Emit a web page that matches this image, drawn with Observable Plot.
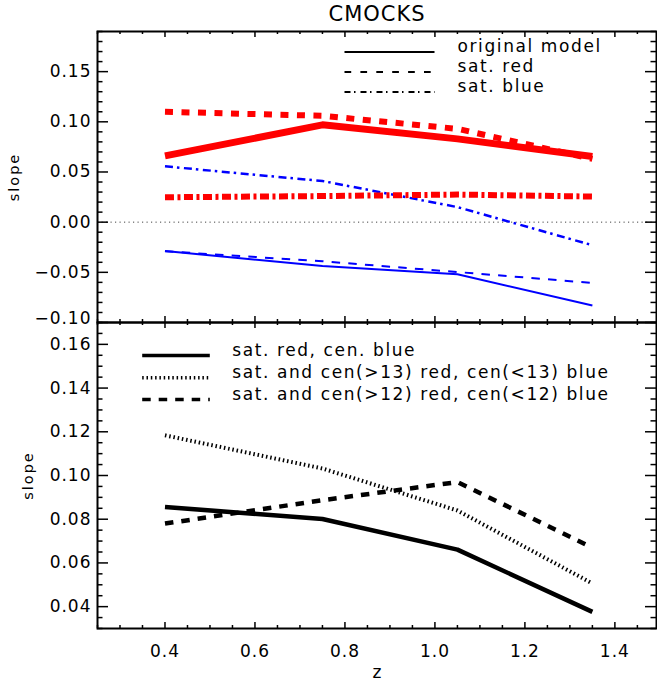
<!DOCTYPE html>
<html><head><meta charset="utf-8">
<script src="https://cdn.jsdelivr.net/npm/d3@7"></script>
<script src="https://cdn.jsdelivr.net/npm/@observablehq/plot@0.6"></script>
<style>
body{margin:0;background:#fff;}
#chart{position:relative;width:657px;height:684px;background:#fff;}
#chart svg{position:absolute;left:0;overflow:visible;background:transparent;}
svg text{font-family:"DejaVu Sans",sans-serif;fill:#000;}
</style></head>
<body><div id="chart"></div>
<script>
// ---------- data ----------
const z = [0.4, 0.75, 1.05, 1.35];
// top panel (red = thick, blue = thin)
const redOriginal  = [0.066, 0.097, 0.083, 0.0655];
const redSatRed    = [0.110, 0.106, 0.093, 0.063];
const redSatBlue   = [0.0248, 0.026, 0.0275, 0.0255];
const blueOriginal = [-0.0288, -0.0437, -0.052, -0.083];
const blueSatRed   = [-0.029, -0.039, -0.0497, -0.0606];
const blueSatBlue  = [0.0556, 0.041, 0.015, -0.023];
// bottom panel
const satRedCenBlue = [0.0856, 0.0801, 0.0661, 0.0376];
const cen13         = [0.1184, 0.1032, 0.084, 0.0506];
const cen12         = [0.078, 0.0887, 0.097, 0.067];

const xTickLabels = [0.4, 0.6, 0.8, 1.0, 1.2, 1.4];
const yTopTickLabels = [-0.10, -0.05, 0.00, 0.05, 0.10, 0.15];
const yBottomTickLabels = [0.04, 0.06, 0.08, 0.10, 0.12, 0.14, 0.16];
const topLegendLabels = ["original model", "sat. red", "sat. blue"];
const bottomLegendLabels = ["sat. red, cen. blue", "sat. and cen(>13) red, cen(<13) blue", "sat. and cen(>12) red, cen(<12) blue"];
const chartTitle = "CMOCKS";
const xTitle = "z";
const yTitle = "slope";

// ---------- layout ----------
const W = 657, ML = 97, MR = 1, plotW = W - ML - MR;
const xDomain = [0.25, 1.4925];
const topDomain = [-0.10, 0.19];
const botDomain = [0.03, 0.17];
const H1 = 330, MT1 = 31, MB1 = 8, plotH1 = H1 - MT1 - MB1;
const TOP2 = 314, H2 = 370, MT2 = 8, MB2 = 56, plotH2 = H2 - MT2 - MB2;

const rows = ys => z.map((x, i) => ({x, y: ys[i]}));
const rnd = v => Math.round(v * 10000) / 10000;
const minorX = d3.range(0.25, 1.49, 0.05).map(rnd).filter(v => !xTickLabels.some(t => Math.abs(t - v) < 1e-6));
const minorTop = d3.range(-0.10, 0.1901, 0.01).map(rnd).filter(v => !yTopTickLabels.some(t => Math.abs(t - v) < 1e-6));
const minorBot = d3.range(0.03, 0.1701, 0.005).map(rnd).filter(v => !yBottomTickLabels.some(t => Math.abs(t - v) < 1e-6));

const xv = px => xDomain[0] + (px - ML) / plotW * (xDomain[1] - xDomain[0]);
const yvTop = py => topDomain[1] - (py - MT1) / plotH1 * (topDomain[1] - topDomain[0]);
const yvBot = py => botDomain[1] - (py - (TOP2 + MT2)) / plotH2 * (botDomain[1] - botDomain[0]);

function frameTicks(majX, minX, majY, minY, plotH) {
  const s = {stroke: "black", strokeWidth: 1.5};
  const yL = 11, yl = 5.5, xL = 6, xl = 3;
  return [
    Plot.tickY(majY, {y: d => d, insetRight: plotW - yL, ...s}),
    Plot.tickY(minY, {y: d => d, insetRight: plotW - yl, ...s}),
    Plot.tickY(majY, {y: d => d, insetLeft: plotW - yL, ...s}),
    Plot.tickY(minY, {y: d => d, insetLeft: plotW - yl, ...s}),
    Plot.tickX(majX, {x: d => d, insetTop: plotH - xL, ...s}),
    Plot.tickX(minX, {x: d => d, insetTop: plotH - xl, ...s}),
    Plot.tickX(majX, {x: d => d, insetBottom: plotH - xL, ...s}),
    Plot.tickX(minX, {x: d => d, insetBottom: plotH - xl, ...s})
  ];
}

function legendLine(x1, x2, y, opts) {
  return Plot.line([{x: x1, y}, {x: x2, y}], {x: "x", y: "y", stroke: "black", strokeLinecap: "butt", ...opts});
}

// text styling after render (font size + letter spacing by text content)
function styleTexts(svg, labels, size, spacing) {
  d3.select(svg).selectAll("text")
    .filter(function () { return labels.includes(this.textContent.trim()); })
    .attr("font-size", size)
    .style("font-size", size + "px")
    .style("letter-spacing", spacing + "px");
}

const fmt2 = d3.format(".2f");
const fmt1 = d3.format(".1f");
const chart = document.getElementById("chart");

// ---------- top panel ----------
const topLegY = [51.5, 71.5, 91.5].map(yvTop);
const topLegStyles = [
  {strokeWidth: 2},
  {strokeWidth: 2, strokeDasharray: "6.7,9.2"},
  {strokeWidth: 1.8, strokeDasharray: "6,3.5,1.5,5"}
];
const topPlot = Plot.plot({
  width: W, height: H1,
  marginLeft: ML, marginRight: MR, marginTop: MT1, marginBottom: MB1,
  x: {domain: xDomain, label: null, axis: null},
  y: {domain: topDomain, label: null, axis: null},
  style: {fontFamily: "DejaVu Sans", fontSize: "17px", background: "transparent", overflow: "visible"},
  marks: [
    Plot.ruleY([0], {stroke: "#444", strokeWidth: 1, strokeDasharray: "1.2,3.3"}),
    Plot.line(rows(blueSatRed), {x: "x", y: "y", stroke: "#0000ff", strokeWidth: 2, strokeDasharray: "8.5,8.2", strokeLinecap: "butt"}),
    Plot.line(rows(blueOriginal), {x: "x", y: "y", stroke: "#0000ff", strokeWidth: 2, strokeLinecap: "butt"}),
    Plot.line(rows(blueSatBlue), {x: "x", y: "y", stroke: "#0000ff", strokeWidth: 2.5, strokeDasharray: "8,4,2.5,4.5", strokeLinecap: "butt"}),
    Plot.line(rows(redSatBlue), {x: "x", y: "y", stroke: "#ff0000", strokeWidth: 6, strokeDasharray: "9,3.5,3,3.5", strokeLinecap: "butt"}),
    Plot.line(rows(redSatRed), {x: "x", y: "y", stroke: "#ff0000", strokeWidth: 6, strokeDasharray: "8,8.5", strokeLinecap: "butt"}),
    Plot.line(rows(redOriginal), {x: "x", y: "y", stroke: "#ff0000", strokeWidth: 7, strokeLinecap: "butt"}),
    ...topLegendLabels.map((l, i) => legendLine(xv(344), xv(434), topLegY[i], topLegStyles[i])),
    Plot.text(topLegendLabels, {x: xv(457), y: (d, i) => topLegY[i], text: d => d, textAnchor: "start", lineAnchor: "middle", dy: -5, fontSize: 17}),
    ...frameTicks(xTickLabels, minorX, yTopTickLabels, minorTop, plotH1),
    Plot.axisY(yTopTickLabels.filter(v => v > -0.1), {anchor: "left", tickSize: 0, tickPadding: 6, tickFormat: fmt2, fontSize: 17, label: null}),
    Plot.axisY([-0.10], {anchor: "left", tickSize: 0, tickPadding: 6, tickFormat: fmt2, fontSize: 17, label: null, dy: -4}),
    Plot.text([yTitle], {frameAnchor: "left", dx: 14 - ML, rotate: -90, fontSize: 14, text: d => d, textAnchor: "middle", lineAnchor: "middle"}),
    Plot.text([chartTitle], {frameAnchor: "top", dy: -17, fontSize: 21, text: d => d, textAnchor: "middle", lineAnchor: "middle"}),
    Plot.frame({stroke: "black", strokeWidth: 2})
  ]
});
topPlot.style.top = "0px";
chart.appendChild(topPlot);
styleTexts(topPlot, yTopTickLabels.map(fmt2), 17, 1);
styleTexts(topPlot, topLegendLabels, 17, 1.6);
styleTexts(topPlot, [yTitle], 14.5, 2);
styleTexts(topPlot, [chartTitle], 21, 1);

// ---------- bottom panel ----------
const botLegY = [355, 377.3, 399].map(yvBot);
const botLegStyles = [
  {strokeWidth: 3.5},
  {strokeWidth: 3.5, strokeDasharray: "1.5,2.8"},
  {strokeWidth: 3.5, strokeDasharray: "8.5,8"}
];
const bottomPlot = Plot.plot({
  width: W, height: H2,
  marginLeft: ML, marginRight: MR, marginTop: MT2, marginBottom: MB2,
  x: {domain: xDomain, label: null, axis: null},
  y: {domain: botDomain, label: null, axis: null},
  style: {fontFamily: "DejaVu Sans", fontSize: "17px", background: "transparent", overflow: "visible"},
  marks: [
    Plot.line(rows(cen13), {x: "x", y: "y", stroke: "black", strokeWidth: 4, strokeDasharray: "1.5,2.8", strokeLinecap: "butt"}),
    Plot.line(rows(cen12), {x: "x", y: "y", stroke: "black", strokeWidth: 4.5, strokeDasharray: "8.5,8", strokeLinecap: "butt"}),
    Plot.line(rows(satRedCenBlue), {x: "x", y: "y", stroke: "black", strokeWidth: 4.5, strokeLinecap: "butt"}),
    ...bottomLegendLabels.map((l, i) => legendLine(xv(141.7), xv(209.3), botLegY[i], botLegStyles[i])),
    Plot.text(bottomLegendLabels, {x: xv(231.7), y: (d, i) => botLegY[i], text: d => d, textAnchor: "start", lineAnchor: "middle", dy: -5, fontSize: 17}),
    ...frameTicks(xTickLabels, minorX, yBottomTickLabels, minorBot, plotH2),
    Plot.axisY(yBottomTickLabels, {anchor: "left", tickSize: 0, tickPadding: 6, tickFormat: fmt2, fontSize: 17, label: null}),
    Plot.axisX(xTickLabels, {anchor: "bottom", tickSize: 0, tickPadding: 16, tickFormat: fmt1, fontSize: 17, label: null}),
    Plot.text([yTitle], {frameAnchor: "left", dx: 28 - ML, rotate: -90, fontSize: 14, text: d => d, textAnchor: "middle", lineAnchor: "middle"}),
    Plot.text([xTitle], {frameAnchor: "bottom", dy: 44, fontSize: 17, text: d => d, textAnchor: "middle", lineAnchor: "middle"}),
    Plot.frame({stroke: "black", strokeWidth: 2})
  ]
});
bottomPlot.style.top = TOP2 + "px";
chart.appendChild(bottomPlot);
styleTexts(bottomPlot, yBottomTickLabels.map(fmt2), 17, 1);
styleTexts(bottomPlot, xTickLabels.map(fmt1), 17, 1);
styleTexts(bottomPlot, bottomLegendLabels, 17, 1.6);
styleTexts(bottomPlot, [yTitle], 14.5, 2);
styleTexts(bottomPlot, [xTitle], 17, 0);
</script>
</body></html>
